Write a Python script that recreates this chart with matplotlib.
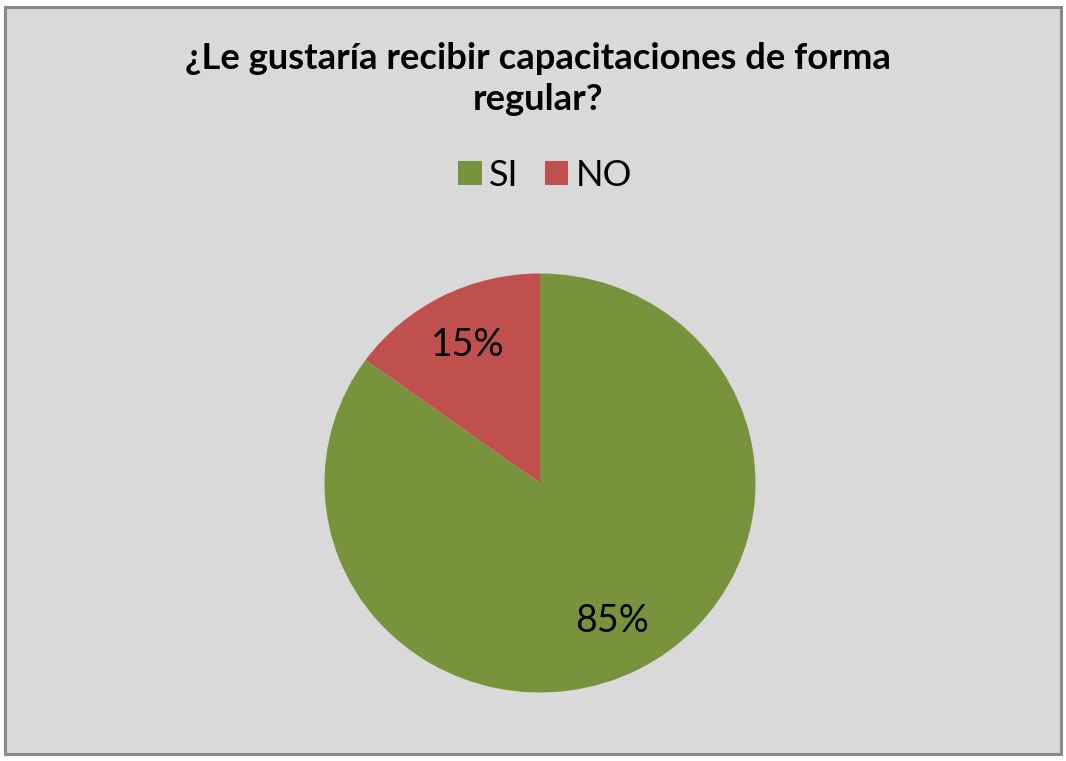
import matplotlib.pyplot as plt
from matplotlib.patches import Rectangle, Patch

plt.rcParams['font.family'] = ['Lato', 'DejaVu Sans']

# datos de la encuesta
categorias = ["SI", "NO"]
porcentajes = [85, 15]
colores = ["#77933C", "#C0504D"]
titulo = "¿Le gustaría recibir capacitaciones de forma\nregular?"

W, H = 1066, 761
fig = plt.figure(figsize=(W / 100, H / 100), dpi=100, facecolor="white")

# fondo gris con marco
fig.patches.append(Rectangle((5 / W, 1 - 754 / H), 1056 / W, 747 / H,
                             transform=fig.transFigure, facecolor="#D9D9D9",
                             edgecolor="#898989", linewidth=2.2, zorder=-10))

fig.text(538 / W, 1 - 79 / H, titulo, ha="center", va="center",
         fontsize=26.2, fontweight="bold", linespacing=1.3)

# pastel (centro ~ (540, 483) px)
cx, cy, rx, ry = 540, 483, 215.5, 209.5
ax = fig.add_axes([(cx - rx) / W, 1 - (cy + ry) / H, 2 * rx / W, 2 * ry / H])
ax.pie(porcentajes, colors=colores, startangle=90, counterclock=False,
       autopct="%d%%", pctdistance=0.74,
       textprops=dict(fontsize=27, color="black"))
ax.set_xlim(-1, 1)
ax.set_ylim(-1, 1)
ax.set_aspect("auto")
ax.axis("off")

handles = [Patch(facecolor=c, label=l) for c, l in zip(colores, categorias)]
fig.legend(handles=handles, loc="center", bbox_to_anchor=(545 / W, 1 - 175 / H),
           ncol=2, frameon=False, fontsize=26, handlelength=0.66,
           handleheight=0.66, handletextpad=0.2, columnspacing=0.72)

fig.savefig("out.png", dpi=100, facecolor="white")
